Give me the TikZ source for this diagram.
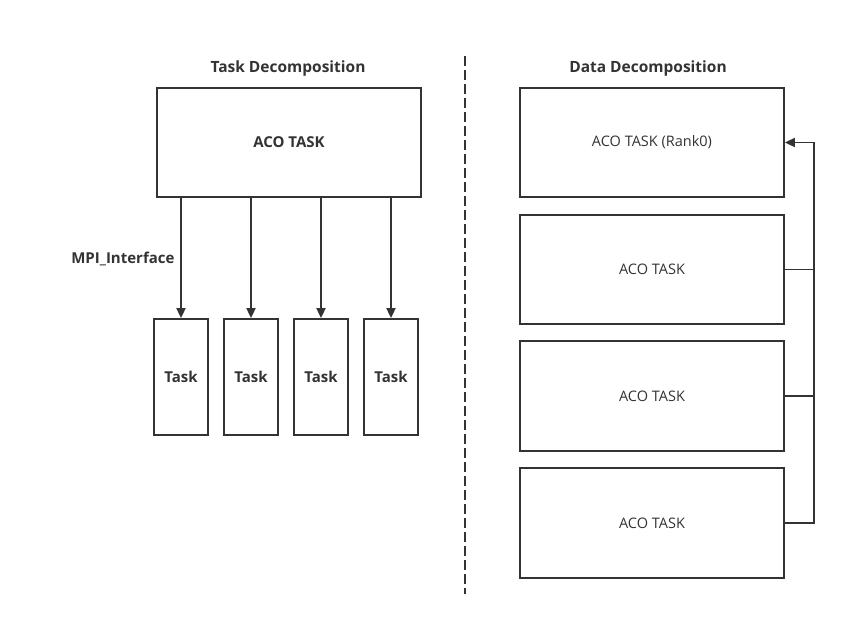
\documentclass[tikz,border=0pt]{standalone}
\usepackage{fontspec}
\setmainfont{Open Sans}
\usetikzlibrary{arrows.meta}
\definecolor{ink}{HTML}{333333}
\begin{document}
\begin{tikzpicture}[x=1pt,y=-1pt,
  box/.style={draw=ink,line width=1.8pt,fill=white,inner sep=0pt,text=ink},
  conn/.style={draw=ink,line width=1.8pt},
  arr/.style={conn,-{Triangle[length=10pt,width=9pt]}},
  head/.style={text=ink,font=\fontsize{15.5}{18}\selectfont\bfseries},
  lbl/.style={font=\fontsize{14.5}{17}\selectfont},
  blbl/.style={font=\fontsize{15}{18}\selectfont\bfseries}]
\useasboundingbox (0,0) rectangle (846,627);
% headings
\node[head] (h1) at (288,68) {Task Decomposition};
\node[head] (h2) at (648,68) {Data Decomposition};
% divider
\coordinate (d1) at (465,56);
\coordinate (d2) at (465,594);
\draw[ink,line width=1.8pt,dash pattern=on 10pt off 4pt] (d1) -- (d2);
% left
\node[box,blbl,minimum width=264pt,minimum height=109pt] (aco) at (289,142.5) {ACO TASK};
\foreach \i/\x in {1/181,2/251,3/321,4/391}{
  \node[box,blbl,minimum width=54pt,minimum height=116pt] (t\i) at (\x,377) {Task};
  \draw[arr] (aco.south -| t\i.north) -- (t\i.north);
}
\node[text=ink,blbl,anchor=east] (mpi) at (178,259) {MPI\_Interface};
% right
\node[box,lbl,minimum width=264pt,minimum height=109pt] (r1) at (652,142.5) {ACO TASK (Rank0)};
\node[box,lbl,minimum width=264pt,minimum height=109pt] (r2) at (652,269.5) {ACO TASK};
\node[box,lbl,minimum width=264pt,minimum height=110pt] (r3) at (652,396) {ACO TASK};
\node[box,lbl,minimum width=264pt,minimum height=110pt] (r4) at (652,523) {ACO TASK};
\coordinate (bus) at (814,0);
\draw[conn] (r2.east) -- (r2.east -| bus);
\draw[conn] (r3.east) -- (r3.east -| bus);
\draw[arr] (r4.east) -- (r4.east -| bus) -- (r1.east -| bus) -- (r1.east);
\end{tikzpicture}
\end{document}
